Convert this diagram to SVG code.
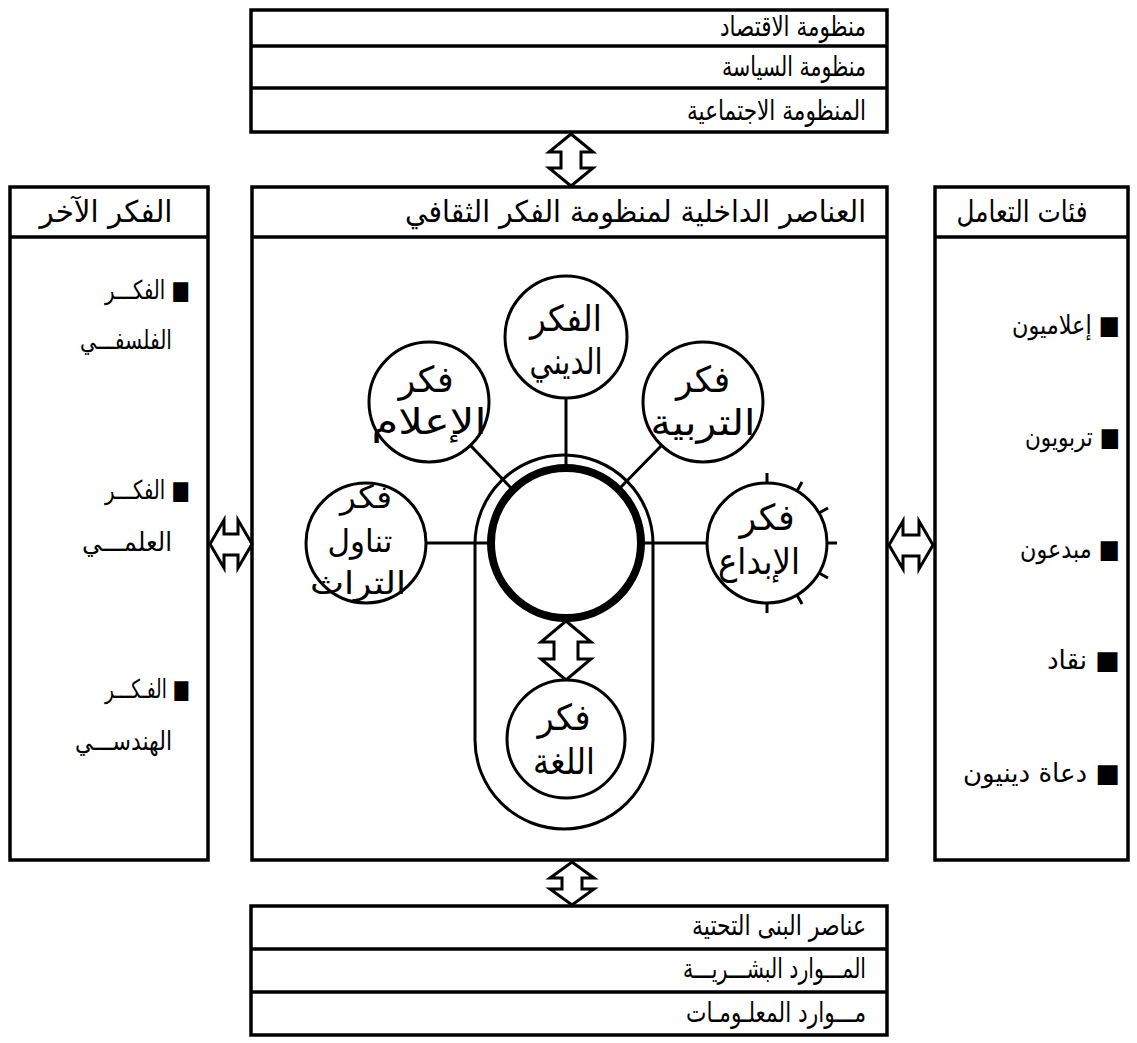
<svg xmlns="http://www.w3.org/2000/svg" width="1137" height="1043" viewBox="0 0 1137 1043">
<style>
.box{fill:#fff;stroke:#000;stroke-width:3.5}
.ln{stroke:#000;stroke-width:3.5;fill:none}
.sp{stroke:#000;stroke-width:3;fill:none}
.nd{fill:#fff;stroke:#000;stroke-width:3}
.arr{fill:#fff;stroke:#000;stroke-width:3;stroke-linejoin:miter}
text{font-family:"DejaVu Sans","Noto Sans",sans-serif;fill:#000}
.t{text-anchor:end}
.tc{text-anchor:middle}
.h{font-size:28px}
.i{font-size:26px}
.c{font-size:36px}
.c3{font-size:32px}
</style>
<rect width="1137" height="1043" fill="#fff"/>

<g id="top-box">
<rect class="box" x="251" y="10" width="636" height="122"/>
<line class="ln" x1="251" y1="46" x2="887" y2="46"/>
<line class="ln" x1="251" y1="88" x2="887" y2="88"/>
<text class="t h" x="866" y="36" textLength="146" lengthAdjust="spacingAndGlyphs">منظومة الاقتصاد</text>
<text class="t h" x="866" y="76" textLength="144" lengthAdjust="spacingAndGlyphs">منظومة السياسة</text>
<text class="t h" x="866" y="120" textLength="179" lengthAdjust="spacingAndGlyphs">المنظومة الاجتماعية</text>
</g>

<g id="center-box">
<rect class="box" x="252" y="187" width="635" height="673"/>
<line class="ln" x1="252" y1="237" x2="887" y2="237"/>
<text class="t h" x="866" y="222" style="font-size:30px" textLength="461" lengthAdjust="spacingAndGlyphs">العناصر الداخلية لمنظومة الفكر الثقافي</text>
</g>

<g id="left-box">
<rect class="box" x="10" y="187" width="198" height="673"/>
<line class="ln" x1="10" y1="237" x2="208" y2="237"/>
<text class="tc h" x="106" y="222" style="font-size:30px" textLength="133" lengthAdjust="spacingAndGlyphs">الفكر الآخر</text>
<text class="t i" x="190" y="299" textLength="85" lengthAdjust="spacingAndGlyphs">الفكـــر ■</text>
<text class="t i" x="172" y="349" textLength="92" lengthAdjust="spacingAndGlyphs">الفلسفـــي</text>
<text class="t i" x="190" y="499" textLength="85" lengthAdjust="spacingAndGlyphs">الفكـــر ■</text>
<text class="t i" x="172" y="551" textLength="90" lengthAdjust="spacingAndGlyphs">العلمـــي</text>
<text class="t i" x="190" y="698" textLength="85" lengthAdjust="spacingAndGlyphs">الفـكـــر ■</text>
<text class="t i" x="172" y="750" textLength="97" lengthAdjust="spacingAndGlyphs">الهندســـي</text>
</g>

<g id="right-box">
<rect class="box" x="935" y="187" width="193" height="673"/>
<line class="ln" x1="935" y1="237" x2="1128" y2="237"/>
<text class="tc h" x="1022" y="222" style="font-size:30px" textLength="131" lengthAdjust="spacingAndGlyphs">فئات التعامل</text>
<text class="t i" x="1120" y="334" textLength="108" lengthAdjust="spacingAndGlyphs">إعلاميون ■</text>
<text class="t i" x="1120" y="446" textLength="95" lengthAdjust="spacingAndGlyphs">تربويون ■</text>
<text class="t i" x="1120" y="558" textLength="100" lengthAdjust="spacingAndGlyphs">مبدعون ■</text>
<text class="t i" x="1120" y="669" textLength="73" lengthAdjust="spacingAndGlyphs">نقاد ■</text>
<text class="t i" x="1120" y="782" textLength="157" lengthAdjust="spacingAndGlyphs">دعاة دينيون ■</text>
</g>

<g id="bottom-box">
<rect class="box" x="251" y="906" width="636" height="129"/>
<line class="ln" x1="251" y1="949" x2="887" y2="949"/>
<line class="ln" x1="251" y1="992" x2="887" y2="992"/>
<text class="t h" x="866" y="935" textLength="174" lengthAdjust="spacingAndGlyphs">عناصر البنى التحتية</text>
<text class="t h" x="866" y="978" textLength="183" lengthAdjust="spacingAndGlyphs">المـــوارد البشـــريـــة</text>
<text class="t h" x="866" y="1022" textLength="180" lengthAdjust="spacingAndGlyphs">مـــوارد المعلـومـات</text>
</g>

<g id="connectors">
<line class="sp" x1="566" y1="398" x2="566" y2="466"/>
<line class="sp" x1="471" y1="446" x2="512" y2="489"/>
<line class="sp" x1="661" y1="446" x2="619" y2="489"/>
<line class="sp" x1="426" y1="543" x2="491" y2="543"/>
<line class="sp" x1="640" y1="543" x2="706" y2="543"/>
<polygon class="arr" points="571,134 593,152 581,152 581,168 593,168 571,186 549,168 561,168 561,152 549,152"/>
<polygon class="arr" points="572,862 594,878 582,878 582,889 594,889 572,905 550,889 562,889 562,878 550,878"/>
<polygon class="arr" points="210,544 224,520 224,534 238,534 238,520 252,544 238,568 238,555 224,555 224,568"/>
<polygon class="arr" points="889,545 903,521 903,535 919,535 919,521 933,545 919,569 919,556 903,556 903,569"/>
<polygon class="arr" points="566,621 591,642 578,642 578,659 591,659 566,680 541,659 554,659 554,642 541,642"/>
</g>

<g id="hub">
<path class="sp" d="M475,544 A89,89 0 0 1 653,544 L653,740 A89,89 0 0 1 475,740 Z"/>
<circle cx="566" cy="543" r="75" fill="#fff" stroke="#000" stroke-width="8"/>
</g>

<g id="node-religious">
<circle class="nd" cx="566" cy="337" r="61"/>
<text class="tc c" x="566" y="331" textLength="72" lengthAdjust="spacingAndGlyphs">الفكر</text>
<text class="tc c" x="566" y="374" textLength="73" lengthAdjust="spacingAndGlyphs">الديني</text>
</g>
<g id="node-media">
<circle class="nd" cx="429" cy="402" r="60"/>
<text class="tc c" x="426" y="392" textLength="55" lengthAdjust="spacingAndGlyphs">فكر</text>
<text class="tc c" x="429" y="434" textLength="115" lengthAdjust="spacingAndGlyphs">الإعلام</text>
</g>
<g id="node-education">
<circle class="nd" cx="703" cy="402" r="60"/>
<text class="tc c" x="703" y="392" textLength="54" lengthAdjust="spacingAndGlyphs">فكر</text>
<text class="tc c" x="703" y="435" textLength="105" lengthAdjust="spacingAndGlyphs">التربية</text>
</g>
<g id="node-heritage">
<circle class="nd" cx="366" cy="543" r="60"/>
<text class="tc c3" x="366" y="508" textLength="52" lengthAdjust="spacingAndGlyphs">فكر</text>
<text class="tc c3" x="360" y="552" textLength="65" lengthAdjust="spacingAndGlyphs">تناول</text>
<text class="tc c3" x="358" y="594" textLength="96" lengthAdjust="spacingAndGlyphs">التراث</text>
</g>
<g id="node-creativity">
<circle class="nd" cx="767" cy="543" r="60"/>
<g class="sp">
<line x1="767" y1="483" x2="767" y2="473"/>
<line x1="797" y1="491" x2="802" y2="482"/>
<line x1="819" y1="513" x2="828" y2="508"/>
<line x1="827" y1="543" x2="837" y2="543"/>
<line x1="819" y1="573" x2="828" y2="578"/>
<line x1="797" y1="595" x2="802" y2="604"/>
<line x1="767" y1="603" x2="767" y2="613"/>
</g>
<text class="tc c" x="767" y="530" textLength="55" lengthAdjust="spacingAndGlyphs">فكر</text>
<text class="tc c" x="759" y="574" textLength="82" lengthAdjust="spacingAndGlyphs">الإبداع</text>
</g>
<g id="node-language">
<circle class="nd" cx="566" cy="739" r="59"/>
<text class="tc c" x="564" y="730" textLength="53" lengthAdjust="spacingAndGlyphs">فكر</text>
<text class="tc c" x="564" y="774" textLength="62" lengthAdjust="spacingAndGlyphs">اللغة</text>
</g>
</svg>
